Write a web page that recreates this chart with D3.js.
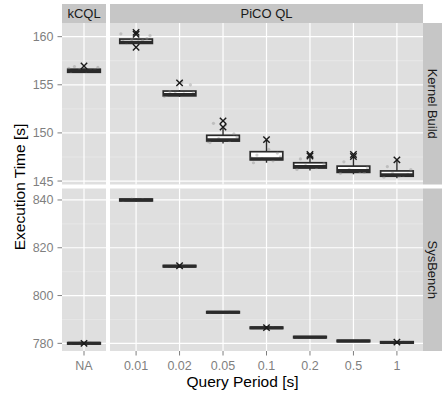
<!DOCTYPE html>
<html lang='en'>
	<head>
		<title>Execution time by query period</title>
		<meta charset=utf-8>
		<script src="https://cdn.jsdelivr.net/npm/d3@7/dist/d3.min.js" charset="utf-8"></script>
		<style>
			body {
				margin: 0;
				background-color: white;
			}
			text {
				font-family: "Liberation Sans", Arial, sans-serif;
			}
			.tick-label {
				fill: #7f7f7f;
				font-size: 12.5px;
			}
			.strip-label {
				fill: #1a1a1a;
				font-size: 13px;
			}
			.axis-title {
				fill: #000;
				font-size: 15.5px;
			}
		</style>
	</head>
	<body>
		<svg id='chart' width="442" height="393"></svg>
	</body>

	<script>
		// categories and facets
		var kcqlPeriods = ["NA"];
		var picoPeriods = ["0.01", "0.02", "0.05", "0.1", "0.2", "0.5", "1"];
		var benchmarks = ["Kernel Build", "SysBench"];

		// box stats per period: [lower whisker, q1, median, q3, upper whisker]
		var kernelBoxes = {
			"NA":   [156.25, 156.3, 156.45, 156.62, 156.7],
			"0.01": [159.25, 159.3, 159.42, 159.75, 159.8],
			"0.02": [153.75, 153.85, 154.0, 154.35, 154.45],
			"0.05": [148.9, 149.15, 149.3, 149.75, 150.5],
			"0.1":  [146.9, 147.2, 147.32, 148.05, 149.3],
			"0.2":  [146.1, 146.35, 146.5, 146.9, 147.6],
			"0.5":  [145.7, 145.9, 146.1, 146.55, 147.55],
			"1":    [145.3, 145.5, 145.65, 146.05, 147.15]
		};
		var sysbenchBoxes = {
			"NA":   [779.6, 779.7, 780.0, 780.3, 780.4],
			"0.01": [839.4, 839.6, 840.0, 840.4, 840.6],
			"0.02": [811.9, 812.0, 812.3, 812.6, 812.7],
			"0.05": [792.6, 792.7, 793.0, 793.3, 793.4],
			"0.1":  [786.1, 786.2, 786.5, 786.8, 786.9],
			"0.2":  [782.2, 782.3, 782.6, 782.9, 783.0],
			"0.5":  [780.6, 780.7, 781.0, 781.3, 781.4],
			"1":    [780.0, 780.1, 780.4, 780.7, 780.8]
		};

		// crosses drawn above / below the boxes
		var kernelCrosses = {
			"NA": [156.95], "0.01": [160.45, 160.25, 158.9], "0.02": [155.2],
			"0.05": [151.25, 150.6], "0.1": [149.3], "0.2": [147.75, 147.6],
			"0.5": [147.75, 147.55], "1": [147.2]
		};
		var sysbenchCrosses = {
			"NA": [780.0], "0.01": [], "0.02": [812.5], "0.05": [],
			"0.1": [786.6], "0.2": [], "0.5": [], "1": [780.5]
		};

		// individual runs (grey dots)
		var kernelRuns = {
			"NA":   [156.4, 156.5, 156.6, 156.8, 156.9, 156.45, 156.55, 156.7],
			"0.01": [159.5, 159.6, 159.7, 160.1, 159.35, 159.45, 159.8, 160.3],
			"0.02": [153.9, 154.0, 154.1, 154.2, 154.3, 155.3, 155.0, 153.8, 154.05],
			"0.05": [149.0, 149.2, 149.4, 149.6, 151.0, 150.8, 149.9, 149.1],
			"0.1":  [146.9, 147.1, 147.3, 147.5, 147.7, 148.3, 147.9, 147.4],
			"0.2":  [146.2, 146.4, 146.6, 146.8, 147.3, 147.6, 146.5],
			"0.5":  [145.8, 146.0, 146.2, 146.4, 147.0, 147.6, 145.9],
			"1":    [145.4, 145.6, 145.8, 146.2, 146.5, 145.5, 145.7]
		};
		var sysbenchRuns = {
			"NA":   [779.9, 780.1, 780.2],
			"0.01": [839.8, 840.2, 840.4],
			"0.02": [812.2, 812.4, 812.6],
			"0.05": [792.9, 793.1],
			"0.1":  [786.4, 786.6],
			"0.2":  [782.5, 782.7],
			"0.5":  [780.9, 781.1],
			"1":    [780.3, 780.5]
		};

		// tick labels
		var kernelTicks = [145, 150, 155, 160];
		var sysbenchTicks = [780, 800, 820, 840];

		// layout
		var L = {
			kx0: 62, kx1: 106,
			px0: 110, px1: 423,
			stripTop: 4, panelTop: 23,
			topBottom: 184.5, botTop: 188.5, botBottom: 351,
			rightStrip: 442
		};
		var jitter = [-0.3, 0.15, -0.1, 0.32, -0.22, 0.05, 0.25, -0.35, 0.1];

		var svg = d3.select("#chart");

		var xk = d3.scalePoint().domain(kcqlPeriods).range([L.kx0, L.kx1]).padding(0.6);
		var xp = d3.scalePoint().domain(picoPeriods).range([L.px0, L.px1]).padding(0.6);
		var boxW = 0.75 * xp.step();

		var rows = [
			{ name: benchmarks[0], boxes: kernelBoxes, crosses: kernelCrosses, runs: kernelRuns, ticks: kernelTicks,
			  y: d3.scaleLinear().domain([144.64, 161.42]).range([L.topBottom, L.panelTop]) },
			{ name: benchmarks[1], boxes: sysbenchBoxes, crosses: sysbenchCrosses, runs: sysbenchRuns, ticks: sysbenchTicks,
			  y: d3.scaleLinear().domain([776.8, 844.8]).range([L.botBottom, L.botTop]) }
		];
		var cols = [
			{ name: "kCQL", x: xk, x0: L.kx0, x1: L.kx1 },
			{ name: "PiCO QL", x: xp, x0: L.px0, x1: L.px1 }
		];

		// top strips
		cols.forEach(function(c) {
			svg.append('rect').attr('x', c.x0).attr('y', L.stripTop).attr('width', c.x1 - c.x0)
				.attr('height', L.panelTop - L.stripTop).attr('fill', '#c6c6c6');
			svg.append('text').attr('class', 'strip-label').attr('x', (c.x0 + c.x1) / 2)
				.attr('y', (L.stripTop + L.panelTop) / 2).attr('dy', '0.35em')
				.attr('text-anchor', 'middle').text(c.name);
		});

		rows.forEach(function(r) {
			var y0 = r.y.range()[1], y1 = r.y.range()[0];

			// right strip
			svg.append('rect').attr('x', L.px1).attr('y', y0).attr('width', L.rightStrip - L.px1)
				.attr('height', y1 - y0).attr('fill', '#c6c6c6');
			var cx = (L.px1 + L.rightStrip) / 2, cy = (y0 + y1) / 2;
			svg.append('text').attr('class', 'strip-label')
				.attr('transform', 'translate(' + cx + ',' + cy + ') rotate(90)')
				.attr('dy', '0.35em').attr('text-anchor', 'middle').text(r.name);

			// minor tick values between majors
			var minor = [];
			var st = r.ticks[1] - r.ticks[0];
			for (var i = -1; i < r.ticks.length; i = i + 1) {
				var m = r.ticks[0] + st * (i + 0.5);
				if (m > r.y.domain()[0] && m < r.y.domain()[1]) minor.push(m);
			}

			cols.forEach(function(c) {
				var g = svg.append('g');
				g.append('rect').attr('x', c.x0).attr('y', y0).attr('width', c.x1 - c.x0)
					.attr('height', y1 - y0).attr('fill', '#dfdfdf');

				// grid
				g.selectAll('.minor').data(minor).enter().append('line')
					.attr('x1', c.x0).attr('x2', c.x1).attr('y1', r.y).attr('y2', r.y)
					.attr('stroke', '#ececec').attr('stroke-width', 0.6);
				g.selectAll('.major').data(r.ticks).enter().append('line')
					.attr('x1', c.x0).attr('x2', c.x1).attr('y1', r.y).attr('y2', r.y)
					.attr('stroke', 'white').attr('stroke-width', 1.2);
				g.selectAll('.vgrid').data(c.x.domain()).enter().append('line')
					.attr('x1', c.x).attr('x2', c.x).attr('y1', y0).attr('y2', y1)
					.attr('stroke', 'white').attr('stroke-width', 1.2);

				c.x.domain().forEach(function(p) {
					var b = r.boxes[p];
					var x = c.x(p);
					// whiskers
					g.append('line').attr('x1', x).attr('x2', x).attr('y1', r.y(b[0])).attr('y2', r.y(b[4]))
						.attr('stroke', '#2b2b2b').attr('stroke-width', 1.4);
					// box
					g.append('rect').attr('x', x - boxW / 2).attr('y', r.y(b[3])).attr('width', boxW)
						.attr('height', r.y(b[1]) - r.y(b[3])).attr('fill', 'white')
						.attr('stroke', '#2b2b2b').attr('stroke-width', 1.7);
					// runs
					r.runs[p].forEach(function(v, k) {
						g.append('circle').attr('cx', x + jitter[k % jitter.length] * xp.step())
							.attr('cy', r.y(v)).attr('r', 1.6).attr('fill', 'rgba(140,140,140,0.4)');
					});
					// median
					g.append('line').attr('x1', x - boxW / 2).attr('x2', x + boxW / 2)
						.attr('y1', r.y(b[2])).attr('y2', r.y(b[2]))
						.attr('stroke', '#2b2b2b').attr('stroke-width', 3);
					// crosses
					r.crosses[p].forEach(function(v) {
						var cyv = r.y(v), s = 3.2;
						g.append('path').attr('d', 'M' + (x - s) + ',' + (cyv - s) + 'L' + (x + s) + ',' + (cyv + s)
							+ 'M' + (x - s) + ',' + (cyv + s) + 'L' + (x + s) + ',' + (cyv - s))
							.attr('stroke', '#1a1a1a').attr('stroke-width', 1.4).attr('fill', 'none');
					});
				});
			});

			// y axis ticks and labels
			r.ticks.forEach(function(t) {
				svg.append('line').attr('x1', L.kx0 - 4.5).attr('x2', L.kx0).attr('y1', r.y(t)).attr('y2', r.y(t))
					.attr('stroke', '#7f7f7f').attr('stroke-width', 1);
				svg.append('text').attr('class', 'tick-label').attr('x', L.kx0 - 8.5).attr('y', r.y(t))
					.attr('dy', '0.36em').attr('text-anchor', 'end').text(t);
			});
		});

		// x axis ticks and labels
		cols.forEach(function(c) {
			c.x.domain().forEach(function(p) {
				svg.append('line').attr('x1', c.x(p)).attr('x2', c.x(p)).attr('y1', L.botBottom).attr('y2', L.botBottom + 4.5)
					.attr('stroke', '#7f7f7f').attr('stroke-width', 1);
				svg.append('text').attr('class', 'tick-label').attr('x', c.x(p)).attr('y', 369.5)
					.attr('text-anchor', 'middle').text(p);
			});
		});

		// axis titles
		svg.append('text').attr('class', 'axis-title').attr('x', (L.kx0 + L.px1) / 2).attr('y', 386.5)
			.attr('text-anchor', 'middle').text('Query Period [s]');
		svg.append('text').attr('class', 'axis-title')
			.attr('transform', 'translate(24.5,' + ((L.panelTop + L.botBottom) / 2) + ') rotate(-90)')
			.attr('text-anchor', 'middle').text('Execution Time [s]');
	</script>
</html>
